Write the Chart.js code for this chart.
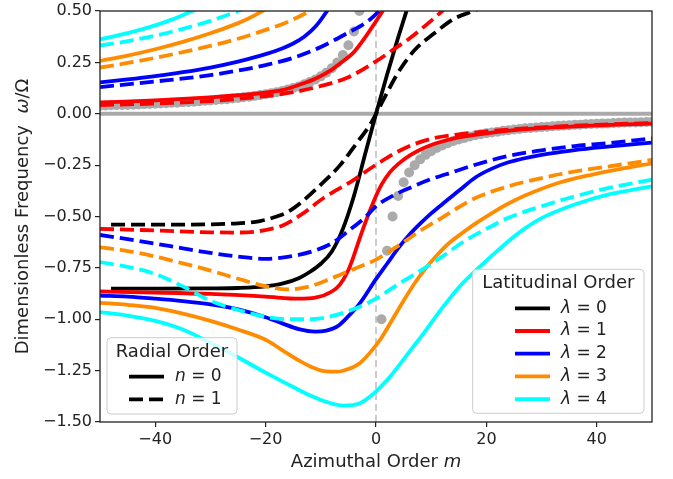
<!DOCTYPE html>
<html>
<head>
<meta charset="utf-8">
<script src="https://cdn.jsdelivr.net/npm/chart.js@4.4.0/dist/chart.umd.min.js"></script>
<style>
  html, body { margin: 0; padding: 0; background: #fff; }
  #wrap { width: 673px; height: 479px; }
</style>
</head>
<body>
<div id="wrap"><canvas id="chart" width="673" height="479"></canvas></div>
<script>
// tick labels
const xTicks = [-40, -20, 0, 20, 40];
const yTicks = [-1.5, -1.25, -1.0, -0.75, -0.5, -0.25, 0, 0.25, 0.5];

// lambda = 0 (single branch)
const mL0n0 = [-48, -40, -30, -25, -20, -17, -14, -12, -10, -8, -6, -4, -2, 0, 2, 4, 6];
const wL0n0 = [-0.851, -0.851, -0.85, -0.848, -0.84, -0.827, -0.80, -0.77, -0.73, -0.67, -0.56, -0.40, -0.20, 0.0, 0.19, 0.37, 0.54];
const mL0n1 = [-48, -40, -30, -25, -21, -18, -16, -13.5, -10, -6.5, -3.3, -1, 1, 4, 7, 10.5, 14, 17.6, 19];
const wL0n1 = [-0.54, -0.54, -0.538, -0.533, -0.522, -0.5, -0.478, -0.43, -0.345, -0.25, -0.136, -0.05, 0.05, 0.2, 0.31, 0.39, 0.46, 0.5, 0.515];

// lambda = 1
const mL1n0up = [-50, -40, -30, -25, -20, -17, -14, -11, -8, -6, -4, -2, 0, 1.2, 2];
const wL1n0up = [0.055, 0.065, 0.08, 0.09, 0.103, 0.115, 0.14, 0.17, 0.215, 0.255, 0.30, 0.37, 0.45, 0.5, 0.54];
const mL1n0lo = [-50, -40, -30, -20, -14, -11, -8, -6.5, -5, -4, -3, -2, -1, 0, 1, 2.5, 4, 6, 8, 10, 12, 15, 20, 25, 30, 40, 50];
const wL1n0lo = [-0.865, -0.87, -0.877, -0.89, -0.9, -0.895, -0.865, -0.83, -0.76, -0.69, -0.61, -0.535, -0.465, -0.4, -0.345, -0.285, -0.245, -0.205, -0.175, -0.152, -0.135, -0.115, -0.095, -0.08, -0.07, -0.057, -0.048];
const mL1n1up = [-50, -40, -30, -20, -15, -10, -5, 0, 3, 6, 9, 12, 13];
const wL1n1up = [0.042, 0.05, 0.062, 0.086, 0.105, 0.135, 0.178, 0.255, 0.31, 0.365, 0.43, 0.5, 0.525];
const mL1n1lo = [-50, -40, -30, -25, -22, -19, -17, -13.5, -9.5, -4.5, 0, 5, 10, 15, 20, 30, 40, 50];
const wL1n1lo = [-0.56, -0.568, -0.577, -0.578, -0.574, -0.56, -0.545, -0.49, -0.41, -0.33, -0.248, -0.17, -0.122, -0.1, -0.086, -0.066, -0.054, -0.045];

// lambda = 2
const mL2n0up = [-50, -45, -40, -35, -30, -25, -20, -17, -15, -13, -11, -9, -8];
const wL2n0up = [0.153, 0.167, 0.183, 0.202, 0.225, 0.254, 0.29, 0.318, 0.342, 0.375, 0.423, 0.495, 0.54];
const mL2n0lo = [-50, -45, -40, -35, -30, -25, -20, -17, -14, -11, -9, -7, -5, -3, 0, 2, 4, 6, 8, 10, 12, 15, 18, 21, 24, 30, 36, 42, 50];
const wL2n0lo = [-0.885, -0.89, -0.9, -0.912, -0.928, -0.952, -0.99, -1.02, -1.048, -1.06, -1.055, -1.035, -0.985, -0.925, -0.805, -0.73, -0.655, -0.59, -0.535, -0.485, -0.44, -0.375, -0.31, -0.267, -0.236, -0.2, -0.177, -0.16, -0.14];
const mL2n1up = [-50, -40, -30, -25, -20, -15, -10, -5, -2, 0, 0.5, 1.5];
const wL2n1up = [0.13, 0.157, 0.188, 0.21, 0.237, 0.272, 0.325, 0.395, 0.44, 0.485, 0.5, 0.53];
const mL2n1lo = [-50, -45, -40, -35, -30, -25, -20, -17, -14, -11, -8, -5, -2, 0, 3, 6, 10, 14, 18, 24, 30, 36, 42, 50];
const wL2n1lo = [-0.59, -0.61, -0.632, -0.655, -0.677, -0.695, -0.706, -0.7, -0.687, -0.665, -0.63, -0.57, -0.505, -0.45, -0.4, -0.362, -0.318, -0.283, -0.248, -0.205, -0.178, -0.157, -0.143, -0.12];

// lambda = 3
const mL3n0up = [-50, -45, -40, -35, -30, -26, -23, -21, -19];
const wL3n0up = [0.257, 0.283, 0.314, 0.35, 0.392, 0.43, 0.465, 0.493, 0.525];
const mL3n0lo = [-50, -45, -40, -35, -30, -25, -20, -17, -14, -11, -9, -7, -5, -3, -1, 1, 3, 5, 7, 9, 11, 13, 15.5, 18, 21, 24, 27, 33, 39, 45, 50];
const wL3n0lo = [-0.92, -0.93, -0.945, -0.973, -1.008, -1.05, -1.1, -1.15, -1.2, -1.24, -1.254, -1.255, -1.242, -1.215, -1.16, -1.09, -1.0, -0.91, -0.825, -0.752, -0.69, -0.635, -0.583, -0.535, -0.483, -0.437, -0.398, -0.337, -0.297, -0.265, -0.241];
const mL3n1up = [-50, -45, -40, -35, -30, -25, -20, -16, -12, -11];
const wL3n1up = [0.225, 0.247, 0.272, 0.3, 0.33, 0.365, 0.408, 0.447, 0.5, 0.515];
const mL3n1lo = [-50, -45, -40, -35, -30, -25, -20, -16, -12, -8, -4, 0, 4, 8, 12, 15, 18, 24, 30, 36, 42, 50];
const wL3n1lo = [-0.65, -0.668, -0.695, -0.728, -0.763, -0.803, -0.84, -0.855, -0.84, -0.8, -0.755, -0.71, -0.643, -0.57, -0.505, -0.455, -0.41, -0.353, -0.313, -0.281, -0.257, -0.225];

// lambda = 4
const mL4n0up = [-50, -45, -40, -37, -33.3, -32];
const wL4n0up = [0.362, 0.392, 0.43, 0.458, 0.5, 0.515];
const mL4n0lo = [-50, -45, -40, -35, -30, -25, -20, -15, -12, -9, -6, -3, -1, 1, 3, 6, 9, 12, 15, 18, 21, 24, 27, 30, 36, 42, 50];
const wL4n0lo = [-0.965, -0.982, -1.008, -1.05, -1.115, -1.185, -1.26, -1.33, -1.37, -1.402, -1.42, -1.41, -1.375, -1.325, -1.265, -1.16, -1.055, -0.945, -0.845, -0.765, -0.69, -0.62, -0.558, -0.508, -0.442, -0.394, -0.353];
const mL4n1up = [-50, -45, -40, -35, -30, -25, -24];
const wL4n1up = [0.332, 0.353, 0.38, 0.413, 0.452, 0.5, 0.51];
const mL4n1lo = [-50, -45, -40, -35, -30, -25, -20, -16, -12, -8, -4, 0, 4, 8, 12, 16, 20, 24, 30, 36, 42, 50];
const wL4n1lo = [-0.722, -0.745, -0.78, -0.84, -0.91, -0.955, -0.988, -1.0, -1.0, -0.985, -0.95, -0.9, -0.83, -0.765, -0.695, -0.62, -0.56, -0.506, -0.45, -0.402, -0.362, -0.321];

// grey points
const mGrayNeg = [-50, -49, -48, -47, -46, -45, -44, -43, -42, -41, -40, -39, -38, -37, -36, -35, -34, -33, -32, -31, -30, -29, -28, -27, -26, -25, -24, -23, -22, -21, -20, -19, -18, -17, -16, -15, -14, -13, -12, -11, -10, -9, -8, -7, -6, -5, -4, -3];
const wGrayNeg = [0.039, 0.040, 0.041, 0.042, 0.043, 0.043, 0.044, 0.045, 0.047, 0.048, 0.049, 0.050, 0.051, 0.053, 0.054, 0.056, 0.057, 0.059, 0.061, 0.063, 0.065, 0.067, 0.069, 0.071, 0.074, 0.077, 0.080, 0.083, 0.087, 0.091, 0.095, 0.100, 0.105, 0.111, 0.118, 0.125, 0.133, 0.143, 0.154, 0.167, 0.182, 0.200, 0.222, 0.250, 0.286, 0.333, 0.400, 0.500];
const mGrayPos = [1, 2, 3, 4, 5, 6, 7, 8, 9, 10, 11, 12, 13, 14, 15, 16, 17, 18, 19, 20, 21, 22, 23, 24, 25, 26, 27, 28, 29, 30, 31, 32, 33, 34, 35, 36, 37, 38, 39, 40, 41, 42, 43, 44, 45, 46, 47, 48, 49, 50];
const wGrayPos = [-1.000, -0.667, -0.500, -0.400, -0.333, -0.286, -0.250, -0.222, -0.200, -0.182, -0.167, -0.154, -0.143, -0.133, -0.125, -0.118, -0.111, -0.105, -0.100, -0.095, -0.091, -0.087, -0.083, -0.080, -0.077, -0.074, -0.071, -0.069, -0.067, -0.065, -0.063, -0.061, -0.059, -0.057, -0.056, -0.054, -0.053, -0.051, -0.050, -0.049, -0.048, -0.047, -0.045, -0.044, -0.043, -0.043, -0.042, -0.041, -0.040, -0.039];

// reference lines
const zeroLineM = [-50, 50];
const zeroLineW = [0, 0];
const vLineM = [0, 0];
const vLineW = [-1.5, 0.5];

const lamColors = ['#000000', '#ff0000', '#0000ff', '#ff8c00', '#00ffff'];
const lamLabels = ['0', '1', '2', '3', '4'];
const radialLabels = ['0', '1'];

const FONT = '"DejaVu Sans", sans-serif';
const DASH = [14, 6];
const LW = 3.8;

function pts(ms, ws) {
  return ms.map((m, i) => ({ x: m, y: ws[i] }));
}

// plotting order: later curves sit on top
const curves = [
  [mL0n0, wL0n0, 0, 0], [mL0n1, wL0n1, 0, 1],
  [mL1n0up, wL1n0up, 1, 0], [mL1n0lo, wL1n0lo, 1, 0], [mL1n1up, wL1n1up, 1, 1], [mL1n1lo, wL1n1lo, 1, 1],
  [mL2n0up, wL2n0up, 2, 0], [mL2n0lo, wL2n0lo, 2, 0], [mL2n1up, wL2n1up, 2, 1], [mL2n1lo, wL2n1lo, 2, 1],
  [mL3n0up, wL3n0up, 3, 0], [mL3n0lo, wL3n0lo, 3, 0], [mL3n1up, wL3n1up, 3, 1], [mL3n1lo, wL3n1lo, 3, 1],
  [mL4n0up, wL4n0up, 4, 0], [mL4n0lo, wL4n0lo, 4, 0], [mL4n1up, wL4n1up, 4, 1], [mL4n1lo, wL4n1lo, 4, 1],
];

const datasets = [
  {
    data: pts(zeroLineM, zeroLineW), borderColor: '#aaaaaa', borderWidth: 4,
    pointRadius: 0, tension: 0, order: 103, clip: 0
  },
  {
    data: pts(vLineM, vLineW), borderColor: '#cccccc', borderWidth: 2, borderDash: [7, 4],
    pointRadius: 0, tension: 0, order: 102, clip: 0
  },
  {
    data: pts(mGrayNeg, wGrayNeg), showLine: false, pointRadius: 5, pointHoverRadius: 5,
    pointBackgroundColor: '#aaaaaa', pointBorderWidth: 0, order: 101, clip: 0
  },
  {
    data: pts(mGrayPos, wGrayPos), showLine: false, pointRadius: 5, pointHoverRadius: 5,
    pointBackgroundColor: '#aaaaaa', pointBorderWidth: 0, order: 100, clip: 0
  },
];

curves.forEach(([ms, ws, lam, n], idx) => {
  datasets.push({
    data: pts(ms, ws),
    borderColor: lamColors[lam],
    borderWidth: LW,
    borderDash: n === 1 ? DASH : [],
    borderCapStyle: 'butt',
    pointRadius: 0,
    cubicInterpolationMode: 'monotone',
    fill: false,
    order: -idx,
    clip: 0,
  });
});

function drawRich(ctx, parts, x, y, size, align) {
  let w = 0;
  parts.forEach(p => {
    ctx.font = (p.it ? 'italic ' : '') + size + 'px ' + FONT;
    w += ctx.measureText(p.t).width;
  });
  let cx = align === 'center' ? x - w / 2 : x;
  ctx.textAlign = 'left';
  ctx.textBaseline = 'middle';
  parts.forEach(p => {
    ctx.font = (p.it ? 'italic ' : '') + size + 'px ' + FONT;
    ctx.fillText(p.t, cx, y);
    cx += ctx.measureText(p.t).width;
  });
}

function drawLegend(ctx, box, title, items) {
  ctx.save();
  ctx.fillStyle = 'rgba(255,255,255,0.8)';
  ctx.strokeStyle = '#cccccc';
  ctx.lineWidth = 1;
  ctx.beginPath();
  ctx.roundRect(box.x, box.y, box.w, box.h, 4);
  ctx.fill();
  ctx.stroke();
  ctx.fillStyle = '#222';
  drawRich(ctx, [{ t: title }], box.x + box.w / 2, box.y + box.titleDy, 18, 'center');
  items.forEach((it, i) => {
    const y = box.y + 39 + i * 22.7;
    ctx.strokeStyle = it.color;
    ctx.lineWidth = LW;
    ctx.lineCap = 'butt';
    ctx.setLineDash(it.dash);
    ctx.beginPath();
    ctx.moveTo(box.x + box.lineX, y);
    ctx.lineTo(box.x + box.lineX + 35, y);
    ctx.stroke();
    ctx.setLineDash([]);
    ctx.fillStyle = '#222';
    drawRich(ctx, it.label, box.x + box.lineX + 46, y, 17, 'left');
  });
  ctx.restore();
}

const overlay = {
  id: 'overlay',
  afterDraw(chart) {
    const ctx = chart.ctx;
    const a = chart.chartArea;
    ctx.save();
    // frame
    ctx.strokeStyle = '#222';
    ctx.lineWidth = 1.3;
    ctx.strokeRect(a.left, a.top, a.right - a.left, a.bottom - a.top);

    // axis titles
    ctx.fillStyle = '#222';
    drawRich(ctx, [{ t: 'Azimuthal Order ' }, { t: 'm', it: true }], (a.left + a.right) / 2, 462, 18, 'center');
    ctx.save();
    ctx.translate(23, (a.top + a.bottom) / 2);
    ctx.rotate(-Math.PI / 2);
    drawRich(ctx, [{ t: 'Dimensionless Frequency  ' }, { t: 'ω', it: true }, { t: '/Ω' }], 0, 0, 18, 'center');
    ctx.restore();

    // legends
    drawLegend(ctx, { x: a.left + 7, y: a.bottom - 84.3, w: 130, h: 76.3, titleDy: 15, lineX: 22 },
      'Radial Order',
      radialLabels.map((lab, i) => ({
        color: '#000000', dash: i === 1 ? DASH : [],
        label: [{ t: 'n', it: true }, { t: ' = ' + lab }]
      })));
    drawLegend(ctx, { x: a.right - 179.3, y: a.bottom - 152.7, w: 171.3, h: 144, titleDy: 14, lineX: 42.3 },
      'Latitudinal Order',
      lamLabels.map((lab, i) => ({
        color: lamColors[i], dash: [],
        label: [{ t: 'λ', it: true }, { t: ' = ' + lab }]
      })));
    ctx.restore();
  }
};

const tickGrid = { display: true, drawOnChartArea: false, drawTicks: true, tickLength: 5, color: '#222', lineWidth: 1.2 };

new Chart(document.getElementById('chart').getContext('2d'), {
  type: 'line',
  data: { datasets },
  options: {
    responsive: false,
    animation: false,
    devicePixelRatio: 1,
    layout: { padding: { left: 0, right: 21, top: 8, bottom: 0 } },
    plugins: { legend: { display: false }, tooltip: { enabled: false } },
    events: [],
    scales: {
      x: {
        type: 'linear',
        min: -50,
        max: 50,
        grid: tickGrid,
        border: { display: false },
        afterBuildTicks: s => { s.ticks = xTicks.map(v => ({ value: v })); },
        afterFit: s => { s.height = 57; },
        ticks: {
          padding: 3,
          color: '#222',
          font: { family: FONT, size: 16 },
          maxRotation: 0,
          callback: v => String(v).replace('-', '\u2212')
        }
      },
      y: {
        type: 'linear',
        min: -1.5,
        max: 0.5,
        grid: tickGrid,
        border: { display: false },
        afterBuildTicks: s => { s.ticks = yTicks.map(v => ({ value: v })); },
        afterFit: s => { s.width = 100; },
        ticks: {
          padding: 3,
          color: '#222',
          font: { family: FONT, size: 16, lineHeight: 1 },
          callback: v => v.toFixed(2).replace('-', '\u2212')
        }
      }
    }
  },
  plugins: [overlay]
});
</script>
</body>
</html>
